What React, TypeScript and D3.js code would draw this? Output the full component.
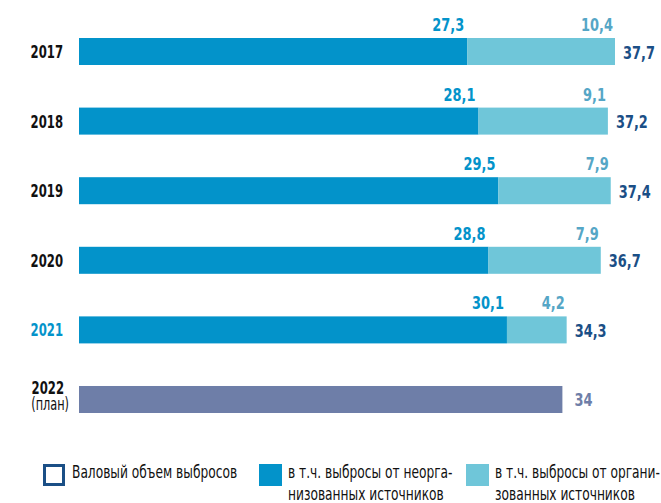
import React from "react";
import { scaleBand, scaleLinear } from "d3";

const years = ["2017", "2018", "2019", "2020", "2021", "2022"];
const unorganized = [27.3, 28.1, 29.5, 28.8, 30.1, null];
const organized = [10.4, 9.1, 7.9, 7.9, 4.2, null];
const totals = [37.7, 37.2, 37.4, 36.7, 34.3, 34];
const planYear = "2022";
const highlightYear = "2021";

const legendItems = [
  { kind: "total", lines: ["Валовый объем выбросов"] },
  { kind: "unorg", lines: ["в т.ч. выбросы от неорга-", "низованных источников"] },
  { kind: "org", lines: ["в т.ч. выбросы от органи-", "зованных источников"] },
];

const colors = {
  unorg: "#0393ca",
  org: "#6fc6d9",
  orgLabel: "#55a6c6",
  total: "#1b4f86",
  plan: "#6e7ea8",
  text: "#111",
};

const font = "'DejaVu Sans Condensed', 'DejaVu Sans', sans-serif";
const fmt = (v: number) => String(v).replace(".", ",");

// condensed text: squeeze horizontally around the anchor point
const T = ({
  x,
  y,
  sx = 0.8,
  anchor = "start",
  size,
  bold = false,
  fill,
  children,
}: {
  x: number;
  y: number;
  sx?: number;
  anchor?: string;
  size: number;
  bold?: boolean;
  fill: string;
  children: React.ReactNode;
}) => (
  <text
    transform={`translate(${x},${y}) scale(${sx},1)`}
    textAnchor={anchor}
    fontSize={size}
    fontWeight={bold ? "bold" : "normal"}
    fill={fill}
  >
    {children}
  </text>
);

export default function App() {
  const width = 661;
  const height = 503;

  const x = scaleLinear().domain([0, 37.7]).range([79, 615]);
  const y = scaleBand<string>()
    .domain(years)
    .range([38, 413])
    .paddingInner(0.612);
  const bh = y.bandwidth();

  const legendX = [43, 259, 466];

  return (
    <svg
      width={width}
      height={height}
      style={{ position: "absolute", left: 0, top: 0, background: "#fff" }}
      fontFamily={font}
    >
      {years.map((yr, i) => {
        const top = y(yr) ?? 0;
        const cy = top + bh / 2;
        const isPlan = yr === planYear;
        const u = unorganized[i];
        const o = organized[i];
        const t = totals[i];
        if (isPlan) {
          return (
            <g key={yr}>
              <T x={64} y={cy - 5} anchor="end" size={18} sx={0.72} bold fill={colors.text}>
                {yr}
              </T>
              <T x={69} y={cy + 11} anchor="end" size={17} sx={0.74} fill={colors.text}>
                (план)
              </T>
              <rect x={x(0)} y={top} width={x(t) - x(0)} height={bh} fill={colors.plan} />
              <T x={x(t) + 12} y={cy + 7} size={18} bold fill={colors.plan}>
                {fmt(t)}
              </T>
            </g>
          );
        }
        return (
          <g key={yr}>
            <T
              x={63}
              y={cy + 6.5}
              anchor="end"
              size={18}
              sx={0.72}
              bold
              fill={yr === highlightYear ? colors.unorg : colors.text}
            >
              {yr}
            </T>
            <rect x={x(0)} y={top} width={x(u as number) - x(0)} height={bh} fill={colors.unorg} />
            <rect x={x(u as number)} y={top} width={x(t) - x(u as number)} height={bh} fill={colors.org} />
            <T x={x(u as number) - 3} y={top - 7} anchor="end" size={18} bold fill={colors.unorg}>
              {fmt(u as number)}
            </T>
            <T x={x(t) - 2} y={top - 7} anchor="end" size={18} bold fill={colors.orgLabel}>
              {fmt(o as number)}
            </T>
            <T x={x(t) + 8} y={cy + 7} size={18} bold fill={colors.total}>
              {fmt(t)}
            </T>
          </g>
        );
      })}

      {legendItems.map((item, i) => {
        const lx = legendX[i];
        return (
          <g key={item.kind} transform={`translate(${lx},464)`}>
            {item.kind === "total" ? (
              <rect x={1.5} y={1.5} width={19} height={19} fill="#fff" stroke={colors.total} strokeWidth={3} />
            ) : (
              <rect x={0} y={0} width={23} height={22} fill={item.kind === "unorg" ? colors.unorg : colors.org} />
            )}
            {item.lines.map((line, j) => (
              <T key={j} x={29} y={14 + j * 22} size={17} sx={0.8} fill={colors.text}>
                {line}
              </T>
            ))}
          </g>
        );
      })}
    </svg>
  );
}
